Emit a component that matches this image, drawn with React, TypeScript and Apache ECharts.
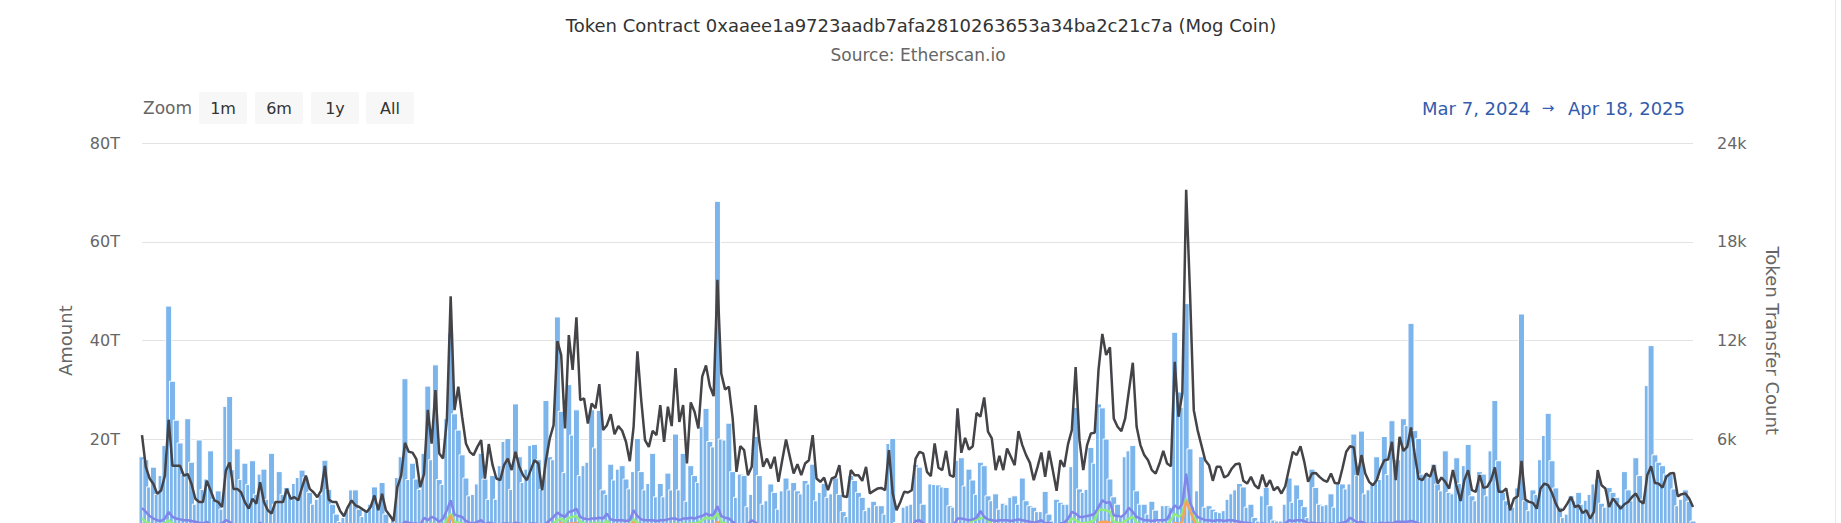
import React, { useEffect, useRef } from "react";
import * as echarts from "echarts";

const FONT = '"DejaVu Sans", Verdana, sans-serif';

const TITLE = "Token Contract 0xaaee1a9723aadb7afa2810263653a34ba2c21c7a (Mog Coin)";
const SUBTITLE = "Source: Etherscan.io";
const RANGE_BUTTONS = ["1m", "6m", "1y", "All"];
const RANGE_FROM = "Mar 7, 2024";
const RANGE_TO = "Apr 18, 2025";
const START_DATE = "2024-03-07";
const DAY_COUNT = 408;

// Amount (trillions) per day
const amountT = [
  16.6, 16, 10.5, 14.5, 9, 12.8, 18.9, 47.1, 31.9, 24.0,
  19.4, 13, 24.3, 15.5, 7, 20, 10, 12.1, 17.8, 8,
  9.7, 6, 26.8, 28.8, 14, 18.2, 12, 15.3, 11, 15.8,
  9, 13.1, 14.1, 8, 17.3, 7, 13.6, 9, 10.4, 9,
  11.2, 12.4, 13.9, 12.5, 9.4, 7, 8, 9, 15.9, 10,
  7, 5, 3.5, 4.3, 6, 9.9, 9.9, 6, 4.5, 5.7,
  7, 10.5, 7, 11.4, 5, 3, 4, 12.4, 16.6, 32.4,
  12, 15.3, 12.1, 10, 17.3, 30.9, 16, 35.2, 12, 11,
  24.3, 41.6,
  25.3, 22, 17, 12.3, 8.7, 9, 11.1, 17.3, 12.1, 8,
  12.8, 8, 14.8, 19.7, 20.3, 10, 27.3, 16.6, 11.4, 14.1,
  18.9, 19.1, 16, 10, 28, 16.6, 16, 44.9, 25.8, 13.4,
  31.2, 21, 26.1, 12.8, 14.8, 15.5, 26.1, 18.4, 26, 9.9,
  9, 15.1, 11.9, 14.1, 14.8, 12.1, 10.1, 13.6, 20.3, 13.6,
  9.9, 11.2, 17.3, 8.5, 11.2, 8.5, 13.3, 9.9, 21.2, 9.9,
  17.3, 7.6, 14.8, 12.8, 11.4, 22.7, 26.4, 19.7, 18.6, 68.3,
  20.2, 20, 23.4, 13.6, 8.4, 13.1, 12.8, 6.5, 9, 20.7,
  12.8, 7,
  7.7, 11.1, 9.4, 6, 9.7, 12.3, 9.9, 11.4, 9.7, 9.1,
  11.8, 11.1, 15.1, 7.7, 9.4, 11.2, 8.4, 9.1, 12.3, 9,
  5.5, 4.5, 12.8, 11.8, 9.4, 8.4, 5.7, 6.4, 7.6, 6.7,
  6.7, 5, 19.3, 20.3, 3.3, 3.1, 6.4, 6.7, 7, 15,
  14.5, 7, 3.1, 11.1, 11, 10.9, 10.5, 10.4, 6.7, 6.4,
  15.9, 16.4, 10.7, 14.1, 11.9, 9, 15.5, 14.8, 8.7, 7.7,
  9.1, 6, 7.2, 6.9, 8.4, 8.7, 7, 12.3, 7.7, 6.7,
  6.4, 5.5, 5.5, 9.6, 5, 3.6, 8, 7.4, 7, 7,
  14.6, 26.6,
  10.1, 9.4, 10, 18.5, 15.3, 27.3, 26.5, 20.2, 12.1, 8.5,
  7, 4.3, 16.6, 17.8, 18.9, 9.7, 7, 7, 5, 7.6,
  5.8, 3.6, 6.7, 6.7, 6.4, 41.8, 29.7, 26.6, 47.6, 18.2,
  6.5, 9.7, 16.6, 6.4, 6.7, 6, 5.5, 5.3, 5.7, 8,
  9.1, 9.9, 11.2, 10.5, 6.4, 7, 4.3, 3.6, 8.7, 10.4,
  6.7, 3.8, 3.6, 3.6, 7, 12.3, 7.4, 10.9, 8, 6.5,
  4.3, 14.1, 10.4, 7, 6.7, 6.9, 9.1, 6.4, 11.1, 11.1,
  10.1, 11.1, 21.2, 12.8, 21.8, 9.1, 9.9, 11.1, 16.6, 12,
  20.7,
  13, 23.9, 16.1, 16, 24.3, 22.9, 43.6, 21.9, 20.3, 13.1,
  13.1, 12.4, 15.1, 11.1, 9.7, 17.8, 9.4, 9.1, 16.4, 11.2,
  14.8, 19.1, 8.7, 7.7, 13.6, 13.1, 8.7, 17.8, 28, 15.8,
  9.4, 7.7, 6.7, 6.4, 10.3, 45.5, 7.7, 5.7, 9.9, 9,
  16, 20.9, 25.4, 15.8, 10.3, 6.4, 4.3, 5, 8.7, 7.7,
  9.4, 7, 7.8, 9, 11.1, 12.1, 7.2, 6.4, 10.4, 9.4,
  8.4, 7, 13.6, 9.9, 7.7, 16.4, 12.8, 8, 31, 39.1,
  17, 15.5, 14.8, 13.1, 13, 10.1, 6.7, 8, 9.9, 7.6,
  3.6,
];

// Token transfer count (thousands) per day
const transferK = [
  6.26, 4.34, 3.63, 3.3, 2.7, 2.9, 3.8, 7.2, 4.4, 4.4,
  4.4, 3.8, 3.9, 3.3, 2.4, 2.2, 2.2, 3.5, 2.9, 2.3,
  2.2, 1.9, 4.1, 4.6, 3.0, 3.0, 2.8, 2.2, 1.8, 2.4,
  2.1, 3.4, 2.2, 1.7, 1.5, 2.2, 2.2, 2.2, 3.0, 2.4,
  2.5, 2.3, 3.1, 3.8, 3.0, 2.8, 2.5, 2.9, 4.4, 2.35,
  2.2, 2.2, 1.66, 1.34, 1.9, 2.3, 2.0, 1.9, 1.74, 1.6,
  1.9, 2.6, 1.7, 2.7, 1.7, 1.4, 1.05, 3.1, 3.8, 5.8,
  5.25, 5.2, 4.8, 3.1, 3.9, 7.8, 5.75, 9.0, 5.15, 4.85,
  7.2, 14.7,
  7.78, 9.2, 7.38, 5.76, 5.25, 5.05, 5.55, 5.96, 3.63, 5.72,
  4.44, 3.63, 3.53, 4.44, 4.84, 4.14, 5.25, 4.34, 3.83, 3.53,
  4.14, 4.74, 4.54, 2.92, 4.74, 6.06, 6.87, 11.98, 11.13, 6.67,
  12.34, 10.22, 13.42, 8.39, 8.49, 6.97, 8.19, 7.89, 9.36, 6.57,
  6.87, 7.54, 6.32, 6.81, 6.53, 5.86, 4.68, 6.77, 11.35, 8.39,
  5.96, 5.55, 6.53, 6.26, 8.09, 5.86, 7.99, 6.81, 10.34, 7.07,
  8.09, 4.54, 8.25, 7.68, 6.67, 9.81, 10.5, 9.24, 8.63, 15.69,
  10.01, 9.04, 9.2, 7.28, 4.03, 5.59, 5.35, 3.83, 4.34, 8.09,
  5.86, 4.34,
  4.84, 4.24, 4.95, 3.43, 4.74, 6.0, 4.95, 3.93, 4.5, 3.83,
  4.54, 4.74, 6.26, 3.63, 3.43, 3.69, 2.92, 3.63, 3.73, 4.44,
  2.55, 2.51, 4.14, 3.83, 3.83, 3.49, 4.34, 2.72, 2.88, 3.02,
  3.06, 2.92, 5.35, 2.72, 1.7, 2.21, 2.82, 2.78, 2.92, 4.84,
  5.25, 5.15, 4.03, 3.77, 5.76, 4.28, 4.14, 5.31, 3.83, 3.73,
  7.89, 5.19, 6.1, 5.39, 5.59, 7.62, 7.38, 8.55, 6.47, 6.06,
  4.14, 5.0, 4.14, 5.45, 4.95, 4.44, 6.51, 5.66, 5.05, 4.58,
  3.53, 4.34, 5.21, 3.73, 5.31, 4.14, 2.88, 4.74, 4.34, 5.72,
  6.57, 10.4,
  5.96, 4.14, 5.66, 6.37, 6.41, 10.22, 12.41, 11.13, 11.6, 7.28,
  6.77, 6.51, 7.28, 9.0, 10.66, 6.77, 5.66, 5.05, 4.74, 4.14,
  3.93, 4.54, 5.31, 4.54, 4.38, 10.72, 7.38, 8.8, 21.16, 14.98,
  7.78, 6.57, 5.66, 4.74, 4.44, 3.49, 4.34, 4.34, 3.69, 3.83,
  4.24, 4.5, 4.54, 3.49, 3.32, 3.73, 3.22, 3.02, 3.87, 3.12,
  3.53, 2.92, 3.12, 2.72, 3.16, 4.24, 5.25, 5.05, 5.59, 4.64,
  3.43, 3.93, 3.97, 3.73, 3.53, 3.43, 3.93, 3.36, 3.32, 4.24,
  5.25, 5.59, 5.51, 3.83, 5.05, 3.93, 3.43, 3.22, 3.53, 4.24,
  4.74,
  4.78, 5.86, 3.53, 6.16, 5.31, 5.55, 6.73, 5.05, 3.63, 3.53,
  3.93, 3.73, 4.44, 3.32, 3.69, 3.43, 3.02, 4.14, 3.12, 2.27,
  3.53, 4.14, 2.92, 2.82, 3.83, 3.06, 3.12, 3.53, 4.3, 2.82,
  2.82, 3.02, 1.7, 2.41, 2.55, 4.7, 2.35, 2.21, 2.15, 1.8,
  3.02, 3.32, 3.22, 2.76, 2.11, 1.66, 1.74, 2.11, 2.51, 1.9,
  2.0, 1.54, 1.7, 1.2, 1.6, 4.14, 3.22, 3.02, 1.9, 2.41,
  2.11, 1.8, 2.07, 2.21, 2.51, 2.72, 2.27, 2.11, 3.83, 4.38,
  3.36, 3.32, 3.08, 3.73, 3.93, 3.97, 2.55, 2.68, 2.72, 2.41,
  1.9,
];

// Unique senders (thousands)
const sendersK = [
  1.2, 1.0, 0.9, 0.8, 0.7, 0.75, 0.9, 1.1, 0.9, 0.85,
  0.8, 0.75, 0.75, 0.7, 0.65, 0.6, 0.6, 0.7, 0.6, 0.55,
  0.6, 0.6, 0.75, 0.7, 0.55, 0.5, 0.5, 0.5, 0.5, 0.45,
  0.5, 0.65, 0.45, 0.4, 0.4, 0.45, 0.45, 0.45, 0.55, 0.45,
  0.45, 0.45, 0.5, 0.55, 0.5, 0.45, 0.4, 0.45, 0.6, 0.4,
  0.4, 0.4, 0.35, 0.3, 0.35, 0.4, 0.35, 0.35, 0.3, 0.3,
  0.35, 0.4, 0.35, 0.4, 0.35, 0.3, 0.25, 0.5, 0.55, 0.7,
  0.65, 0.65, 0.6, 0.55, 0.85, 0.75, 0.9, 0.85, 0.7, 0.8,
  1.1, 1.5, 1.0, 0.95, 0.9, 0.75, 0.65, 0.6, 0.7, 0.75,
  0.6, 0.65, 0.6, 0.55, 0.55, 0.6, 0.6, 0.55, 0.65, 0.6,
  0.55, 0.5, 0.6, 0.6, 0.55, 0.5, 0.6, 0.75, 0.9, 1.1,
  1.2, 1.0, 1.25, 1.3, 1.35, 1.0, 0.9, 0.85, 0.9, 0.9,
  0.95, 0.85, 1.05, 0.85, 0.8, 0.8, 0.8, 0.75, 0.8, 1.15,
  0.95, 0.8, 0.75, 0.75, 0.8, 0.75, 0.8, 0.8, 0.85, 0.85,
  0.9, 0.8, 0.9, 0.85, 0.9, 0.9, 0.95, 1.1, 1.25, 1.2,
  1.2, 1.5, 1.0, 0.9, 0.85, 0.7, 0.6, 0.55, 0.55, 0.6,
  0.75, 0.65, 0.55, 0.5, 0.55, 0.5, 0.55, 0.5, 0.5, 0.55,
  0.55, 0.5, 0.55, 0.5, 0.55, 0.55, 0.6, 0.5, 0.5, 0.5,
  0.45, 0.5, 0.5, 0.5, 0.4, 0.4, 0.5, 0.5, 0.5, 0.45,
  0.5, 0.4, 0.4, 0.45, 0.45, 0.4, 0.6, 0.4, 0.35, 0.4,
  0.4, 0.4, 0.45, 0.7, 0.75, 0.6, 0.5, 0.5, 0.6, 0.55,
  0.55, 0.6, 0.5, 0.55, 0.85, 0.85, 0.8, 0.8, 1.1, 1.15,
  1.2, 1.3, 1.1, 0.85, 0.75, 0.8, 0.8, 0.8, 0.75, 0.8,
  0.85, 0.8, 0.75, 0.7, 0.65, 0.7, 0.8, 0.65, 0.65, 0.6,
  0.55, 0.65, 0.65, 0.85, 1.2, 1.1, 0.95, 0.9, 0.95, 1.0,
  1.1, 1.74, 1.74, 1.7, 1.6, 1.0, 0.95, 0.9, 1.05, 1.2,
  1.3, 0.95, 0.85, 0.8, 0.75, 0.75, 0.8, 0.8, 0.8, 0.85,
  1.1, 1.5, 1.3, 1.5, 2.41, 1.74, 1.3, 0.95, 0.85, 0.8,
  0.8, 0.75, 0.8, 0.8, 0.75, 0.8, 0.8, 0.75, 0.7, 0.7,
  0.65, 0.65, 0.6, 0.6, 0.65, 0.6, 0.6, 0.55, 0.55, 0.6,
  0.65, 0.8, 0.75, 0.8, 0.8, 0.75, 0.65, 0.7, 0.65, 0.65,
  0.65, 0.6, 0.65, 0.6, 0.65, 0.7, 0.75, 0.9, 0.8, 0.7,
  0.75, 0.65, 0.6, 0.65, 0.6, 0.7, 0.65, 0.7, 0.65, 0.7,
  0.7, 0.7, 0.7, 0.75, 0.7, 0.65, 0.6, 0.6, 0.55, 0.55,
  0.55, 0.55, 0.55, 0.5, 0.5, 0.55, 0.5, 0.55, 0.55, 0.5,
  0.5, 0.55, 0.5, 0.5, 0.55, 0.6, 0.55, 0.5, 0.4, 0.45,
  0.45, 0.55, 0.5, 0.4, 0.4, 0.4, 0.5, 0.5, 0.5, 0.5,
  0.4, 0.4, 0.4, 0.4, 0.4, 0.4, 0.4, 0.35, 0.35, 0.3,
  0.35, 0.55, 0.5, 0.5, 0.4, 0.45, 0.4, 0.4, 0.4, 0.4,
  0.45, 0.5, 0.45, 0.4, 0.55, 0.6, 0.5, 0.5, 0.5, 0.5,
  0.55, 0.55, 0.45, 0.45, 0.5, 0.4, 0.4, 0.35,
];

// Unique receivers (thousands)
const receiversK = [
  0.9, 0.7, 0.6, 0.5, 0.45, 0.5, 0.6, 0.85, 0.6, 0.55,
  0.5, 0.5, 0.5, 0.45, 0.4, 0.4, 0.4, 0.45, 0.4, 0.35,
  0.4, 0.4, 0.5, 0.45, 0.35, 0.35, 0.3, 0.35, 0.35, 0.3,
  0.3, 0.4, 0.3, 0.25, 0.25, 0.3, 0.3, 0.3, 0.35, 0.3,
  0.3, 0.3, 0.35, 0.35, 0.3, 0.3, 0.25, 0.3, 0.4, 0.25,
  0.25, 0.25, 0.2, 0.2, 0.2, 0.25, 0.2, 0.2, 0.2, 0.2,
  0.2, 0.25, 0.2, 0.25, 0.2, 0.2, 0.15, 0.3, 0.35, 0.45,
  0.4, 0.4, 0.4, 0.35, 0.55, 0.5, 0.6, 0.55, 0.45, 0.55,
  0.8, 1.4, 0.7, 0.65, 0.6, 0.5, 0.45, 0.4, 0.45, 0.5,
  0.4, 0.45, 0.4, 0.35, 0.35, 0.4, 0.4, 0.35, 0.45, 0.4,
  0.35, 0.35, 0.4, 0.4, 0.35, 0.3, 0.4, 0.5, 0.6, 0.8,
  0.95, 0.7, 0.9, 0.9, 0.95, 0.7, 0.6, 0.55, 0.6, 0.6,
  0.65, 0.55, 0.75, 0.55, 0.5, 0.5, 0.5, 0.5, 0.55, 1.0,
  0.65, 0.55, 0.5, 0.5, 0.5, 0.5, 0.5, 0.5, 0.55, 0.55,
  0.6, 0.5, 0.6, 0.55, 0.6, 0.6, 0.65, 0.75, 0.85, 0.8,
  0.8, 1.0, 0.7, 0.6, 0.55, 0.45, 0.4, 0.35, 0.35, 0.4,
  0.5, 0.45, 0.35, 0.3, 0.35, 0.3, 0.35, 0.3, 0.3, 0.35,
  0.35, 0.3, 0.35, 0.3, 0.35, 0.35, 0.4, 0.3, 0.3, 0.3,
  0.3, 0.3, 0.3, 0.3, 0.25, 0.25, 0.3, 0.3, 0.3, 0.3,
  0.3, 0.25, 0.25, 0.3, 0.3, 0.25, 0.4, 0.25, 0.2, 0.25,
  0.25, 0.25, 0.3, 0.45, 0.5, 0.4, 0.3, 0.3, 0.4, 0.35,
  0.35, 0.4, 0.3, 0.35, 0.55, 0.55, 0.5, 0.5, 0.7, 0.75,
  0.8, 0.85, 0.7, 0.55, 0.5, 0.5, 0.5, 0.5, 0.5, 0.5,
  0.55, 0.5, 0.5, 0.45, 0.4, 0.45, 0.5, 0.4, 0.4, 0.4,
  0.35, 0.4, 0.4, 0.55, 0.8, 0.7, 0.6, 0.6, 0.6, 0.65,
  0.7, 0.95, 1.0, 1.0, 0.95, 0.65, 0.6, 0.6, 0.65, 0.75,
  0.85, 0.6, 0.55, 0.5, 0.5, 0.5, 0.5, 0.5, 0.5, 0.55,
  0.7, 0.95, 0.85, 1.0, 2.3, 1.7, 1.1, 0.6, 0.55, 0.5,
  0.5, 0.5, 0.5, 0.5, 0.5, 0.5, 0.5, 0.5, 0.45, 0.45,
  0.4, 0.4, 0.4, 0.4, 0.4, 0.4, 0.4, 0.35, 0.35, 0.4,
  0.4, 0.5, 0.5, 0.5, 0.5, 0.5, 0.4, 0.45, 0.4, 0.4,
  0.4, 0.4, 0.4, 0.4, 0.4, 0.45, 0.5, 0.6, 0.5, 0.45,
  0.5, 0.4, 0.4, 0.4, 0.4, 0.45, 0.4, 0.45, 0.4, 0.45,
  0.45, 0.45, 0.45, 0.5, 0.45, 0.4, 0.4, 0.4, 0.35, 0.35,
  0.35, 0.35, 0.35, 0.3, 0.3, 0.35, 0.3, 0.35, 0.35, 0.3,
  0.3, 0.35, 0.3, 0.3, 0.35, 0.4, 0.35, 0.3, 0.25, 0.3,
  0.3, 0.35, 0.3, 0.25, 0.25, 0.25, 0.3, 0.3, 0.3, 0.3,
  0.25, 0.25, 0.25, 0.25, 0.25, 0.25, 0.25, 0.2, 0.2, 0.2,
  0.2, 0.35, 0.3, 0.3, 0.25, 0.3, 0.25, 0.25, 0.25, 0.25,
  0.3, 0.3, 0.3, 0.25, 0.35, 0.4, 0.3, 0.3, 0.3, 0.3,
  0.35, 0.35, 0.3, 0.3, 0.3, 0.25, 0.25, 0.2,
];

// Total unique addresses (thousands)
const uniquesK = [
  1.84, 1.6, 1.35, 1.2, 1.1, 1.05, 1.2, 1.6, 1.3, 1.2,
  1.15, 1.1, 1.1, 1.05, 1.0, 0.95, 0.9, 1.0, 0.85, 0.8,
  0.85, 0.9, 1.1, 1.0, 0.8, 0.75, 0.7, 0.75, 0.8, 0.7,
  0.75, 0.95, 0.7, 0.6, 0.6, 0.65, 0.7, 0.65, 0.8, 0.7,
  0.7, 0.65, 0.75, 0.8, 0.7, 0.65, 0.6, 0.7, 0.85, 0.6,
  0.6, 0.55, 0.5, 0.45, 0.5, 0.55, 0.5, 0.5, 0.45, 0.45,
  0.5, 0.55, 0.5, 0.55, 0.5, 0.45, 0.4, 0.7, 0.8, 1.0,
  0.95, 0.9, 0.9, 0.8, 1.25, 1.1, 1.3, 1.2, 1.0, 1.2,
  1.7, 2.3, 1.45, 1.35, 1.3, 1.05, 0.95, 0.9, 1.0, 1.1,
  0.85, 0.95, 0.9, 0.8, 0.85, 0.9, 0.9, 0.85, 0.95, 0.9,
  0.85, 0.8, 0.9, 0.9, 0.85, 0.75, 0.9, 1.1, 1.3, 1.56,
  1.4, 1.3, 1.6, 1.66, 1.8, 1.3, 1.2, 1.15, 1.2, 1.2,
  1.25, 1.2, 1.5, 1.15, 1.1, 1.1, 1.1, 1.05, 1.1, 1.7,
  1.35, 1.15, 1.1, 1.1, 1.1, 1.05, 1.1, 1.1, 1.15, 1.2,
  1.2, 1.1, 1.2, 1.2, 1.25, 1.2, 1.3, 1.35, 1.5, 1.4,
  1.45, 1.95, 1.35, 1.25, 1.2, 1.0, 0.85, 0.8, 0.8, 0.85,
  1.1, 0.95, 0.8, 0.75, 0.8, 0.75, 0.8, 0.7, 0.75, 0.8,
  0.8, 0.75, 0.8, 0.75, 0.8, 0.8, 0.85, 0.7, 0.7, 0.7,
  0.65, 0.7, 0.7, 0.75, 0.6, 0.6, 0.7, 0.7, 0.7, 0.65,
  0.7, 0.6, 0.6, 0.65, 0.65, 0.6, 0.85, 0.6, 0.5, 0.55,
  0.6, 0.6, 0.65, 1.05, 1.1, 0.9, 0.7, 0.75, 0.85, 0.8,
  0.8, 0.85, 0.75, 0.8, 1.2, 1.2, 1.15, 1.1, 1.15, 1.25,
  1.66, 1.3, 1.15, 1.1, 1.05, 1.1, 1.1, 1.1, 1.05, 1.1,
  1.15, 1.1, 1.05, 1.0, 0.95, 1.0, 1.1, 0.9, 0.95, 0.85,
  0.8, 0.9, 0.95, 1.2, 1.6, 1.5, 1.3, 1.3, 1.35, 1.4,
  1.5, 1.9, 2.3, 2.15, 2.2, 1.4, 1.35, 1.3, 1.5, 1.85,
  1.6, 1.3, 1.2, 1.1, 1.1, 1.05, 1.1, 1.1, 1.1, 1.15,
  1.6, 2.0, 1.8, 2.1, 3.93, 2.2, 1.6, 1.3, 1.2, 1.1,
  1.1, 1.05, 1.1, 1.1, 1.05, 1.1, 1.1, 1.05, 1.0, 0.95,
  0.95, 0.9, 0.85, 0.85, 0.9, 0.85, 0.85, 0.8, 0.8, 0.85,
  0.9, 1.1, 1.05, 1.1, 1.1, 1.05, 0.9, 0.95, 0.9, 0.9,
  0.9, 0.85, 0.9, 0.85, 0.9, 0.95, 1.0, 1.25, 1.1, 0.95,
  1.0, 0.9, 0.85, 0.9, 0.85, 0.95, 0.9, 0.95, 0.9, 1.0,
  1.0, 1.0, 1.0, 1.05, 1.0, 0.9, 0.85, 0.85, 0.8, 0.8,
  0.8, 0.8, 0.8, 0.75, 0.75, 0.8, 0.75, 0.8, 0.8, 0.7,
  0.75, 0.8, 0.75, 0.7, 0.8, 0.85, 0.8, 0.7, 0.6, 0.65,
  0.65, 0.8, 0.7, 0.6, 0.6, 0.55, 0.7, 0.75, 0.7, 0.7,
  0.6, 0.55, 0.55, 0.6, 0.6, 0.55, 0.55, 0.5, 0.5, 0.45,
  0.5, 0.8, 0.7, 0.7, 0.6, 0.65, 0.6, 0.55, 0.6, 0.6,
  0.65, 0.7, 0.65, 0.6, 0.8, 0.85, 0.75, 0.75, 0.7, 0.75,
  0.8, 0.8, 0.65, 0.65, 0.7, 0.6, 0.55, 0.5,
];

function buildDates(): string[] {
  const out: string[] = [];
  const d = new Date(START_DATE + "T00:00:00Z");
  for (let i = 0; i < DAY_COUNT; i++) {
    const x = new Date(d.getTime() + i * 86400000);
    out.push(x.toISOString().slice(0, 10));
  }
  return out;
}

const VIEW_W = 1841;
const VIEW_H = 523;
const CHART_H = 560;

export default function App() {
  const ref = useRef<HTMLDivElement>(null);

  useEffect(() => {
    document.body.style.margin = "0";
    if (!ref.current) return;
    const chart = echarts.init(ref.current, null, { renderer: "svg" });
    const dates = buildDates();

    const btnX = [199, 255, 311, 366];
    const graphic: any[] = [
      {
        type: "text",
        x: 921,
        y: 25,
        style: { text: TITLE, fill: "#333333", font: `18px ${FONT}`, align: "center", verticalAlign: "middle" },
      },
      {
        type: "text",
        x: 918,
        y: 55,
        style: { text: SUBTITLE, fill: "#666666", font: `17px ${FONT}`, align: "center", verticalAlign: "middle" },
      },
      {
        type: "text",
        x: 143,
        y: 108,
        style: { text: "Zoom", fill: "#666666", font: `17px ${FONT}`, align: "left", verticalAlign: "middle" },
      },
      {
        type: "line",
        shape: { x1: 1835.5, y1: 0, x2: 1835.5, y2: CHART_H },
        style: { stroke: "#e7eaf3", lineWidth: 1 },
      },
    ];
    RANGE_BUTTONS.forEach((b, i) => {
      graphic.push({
        type: "rect",
        shape: { x: btnX[i], y: 92, width: 48, height: 32, r: 2 },
        style: { fill: "#f7f7f7" },
      });
      graphic.push({
        type: "text",
        x: btnX[i] + 24,
        y: 108,
        style: { text: b, fill: "#333333", font: `16px ${FONT}`, align: "center", verticalAlign: "middle" },
      });
    });
    graphic.push({
      type: "text",
      x: 1422,
      y: 108,
      style: { text: RANGE_FROM, fill: "#335cad", font: `18px ${FONT}`, align: "left", verticalAlign: "middle" },
    });
    graphic.push({
      type: "text",
      x: 1548,
      y: 108,
      style: { text: "\u2192", fill: "#335cad", font: `15px ${FONT}`, align: "center", verticalAlign: "middle" },
    });
    graphic.push({
      type: "text",
      x: 1685,
      y: 108,
      style: { text: RANGE_TO, fill: "#335cad", font: `18px ${FONT}`, align: "right", verticalAlign: "middle" },
    });

    const option: any = {
      animation: false,
      textStyle: { fontFamily: FONT },
      graphic,
      grid: { left: 142, right: 148, top: 143, bottom: CHART_H - 538.3, containLabel: false },
      xAxis: {
        type: "category",
        data: dates,
        boundaryGap: false,
        axisLine: { show: false },
        axisTick: { show: false },
        axisLabel: { show: false },
        splitLine: { show: false },
      },
      yAxis: [
        {
          type: "value",
          position: "left",
          min: 0,
          max: 80,
          interval: 20,
          name: "Amount",
          nameLocation: "middle",
          nameRotate: 90,
          nameGap: 68,
          nameTextStyle: { color: "#666666", fontSize: 18, fontFamily: FONT },
          axisLine: { show: false },
          axisTick: { show: false },
          axisLabel: {
            color: "#666666",
            fontSize: 16,
            fontFamily: FONT,
            margin: 22,
            showMinLabel: false,
            formatter: (v: number) => `${v}T`,
          },
          splitLine: { lineStyle: { color: "#e3e3e3", width: 1 } },
        },
        {
          type: "value",
          position: "right",
          min: 0,
          max: 24,
          interval: 6,
          name: "Token Transfer Count",
          nameLocation: "middle",
          nameRotate: -90,
          nameGap: 70,
          nameTextStyle: { color: "#666666", fontSize: 18, fontFamily: FONT },
          axisLine: { show: false },
          axisTick: { show: false },
          axisLabel: {
            color: "#666666",
            fontSize: 16,
            fontFamily: FONT,
            margin: 24,
            showMinLabel: false,
            formatter: (v: number) => `${v}k`,
          },
          splitLine: { show: false },
        },
      ],
      series: [
        {
          type: "bar",
          name: "Amount",
          yAxisIndex: 0,
          data: amountT,
          barWidth: 7,
          itemStyle: { color: "#7cb5ec", borderColor: "#ffffff", borderWidth: 1 },
        },
        {
          type: "line",
          name: "Token Transfer Count",
          yAxisIndex: 1,
          data: transferK,
          symbol: "none",
          lineStyle: { color: "#434348", width: 2.5 },
          itemStyle: { color: "#434348" },
        },
        {
          type: "line",
          name: "Unique Senders",
          yAxisIndex: 1,
          data: sendersK,
          symbol: "none",
          lineStyle: { color: "#90ed7d", width: 2.5 },
          itemStyle: { color: "#90ed7d" },
        },
        {
          type: "line",
          name: "Unique Receivers",
          yAxisIndex: 1,
          data: receiversK,
          symbol: "none",
          lineStyle: { color: "#f7a35c", width: 2.5 },
          itemStyle: { color: "#f7a35c" },
        },
        {
          type: "line",
          name: "Total Uniques",
          yAxisIndex: 1,
          data: uniquesK,
          symbol: "none",
          lineStyle: { color: "#8085e9", width: 2.5 },
          itemStyle: { color: "#8085e9" },
        },
      ],
    };
    chart.setOption(option);
    return () => chart.dispose();
  }, []);

  return (
    <div style={{ width: VIEW_W, height: VIEW_H, overflow: "hidden", position: "relative" }}>
      <div ref={ref} style={{ width: VIEW_W, height: CHART_H }} />
    </div>
  );
}
